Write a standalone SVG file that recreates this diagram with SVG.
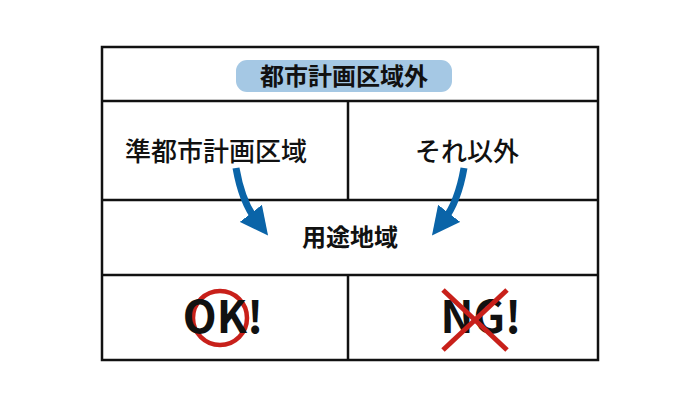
<svg xmlns="http://www.w3.org/2000/svg" width="700" height="400" viewBox="0 0 700 400">
<defs>
<style>
.t{font-family:"Noto Sans CJK JP","Noto Sans",sans-serif;font-weight:bold;fill:#111;text-anchor:middle}
.m{font-weight:500}
.ln{stroke:#111;stroke-width:2.5;fill:none}
.ar{stroke:#0a64a8;stroke-width:7;fill:none}
</style>
<marker id="ah" viewBox="0 0 10 10" refX="3" refY="5" markerWidth="4" markerHeight="4" orient="auto" markerUnits="strokeWidth">
<path d="M0,0 L10,5 L0,10 z" fill="#0a64a8"/>
</marker>
</defs>
<rect width="700" height="400" fill="#fff"/>
<g id="frame">
<rect x="102" y="47" width="496" height="313" class="ln"/>
<line x1="102" y1="101" x2="598" y2="101" class="ln"/>
<line x1="102" y1="200" x2="598" y2="200" class="ln"/>
<line x1="102" y1="275" x2="598" y2="275" class="ln"/>
<line x1="348" y1="101" x2="348" y2="200" class="ln"/>
<line x1="348" y1="275" x2="348" y2="360" class="ln"/>
</g>
<g id="title">
<rect x="236" y="60" width="216" height="32" rx="11" fill="#a5c8e4"/>
<text x="344" y="85" class="t" font-size="24">都市計画区域外</text>
</g>
<g id="jun"><text x="216" y="161" class="t m" font-size="26">準都市計画区域</text></g>
<g id="other"><text x="467" y="161" class="t m" font-size="26">それ以外</text></g>
<g id="youto"><text x="350" y="246" class="t" font-size="24">用途地域</text></g>
<g id="connectors">
<path d="M236,168 Q242,202 256,220" class="ar" marker-end="url(#ah)"/>
<path d="M464,168 Q458,202 444,220" class="ar" marker-end="url(#ah)"/>
</g>
<g id="ok">
<circle cx="220" cy="318" r="27" fill="none" stroke="#c8201a" stroke-width="4.5"/>
<text x="223" y="333" class="t" font-size="44" font-family="'Open Sans',sans-serif">OK!</text>
</g>
<g id="ng">
<text x="481" y="333" class="t" font-size="44" font-family="'Open Sans',sans-serif">NG!</text>
<line x1="443" y1="290" x2="507" y2="350" stroke="#c8201a" stroke-width="5"/>
<line x1="507" y1="290" x2="443" y2="350" stroke="#c8201a" stroke-width="5"/>
</g>
</svg>
